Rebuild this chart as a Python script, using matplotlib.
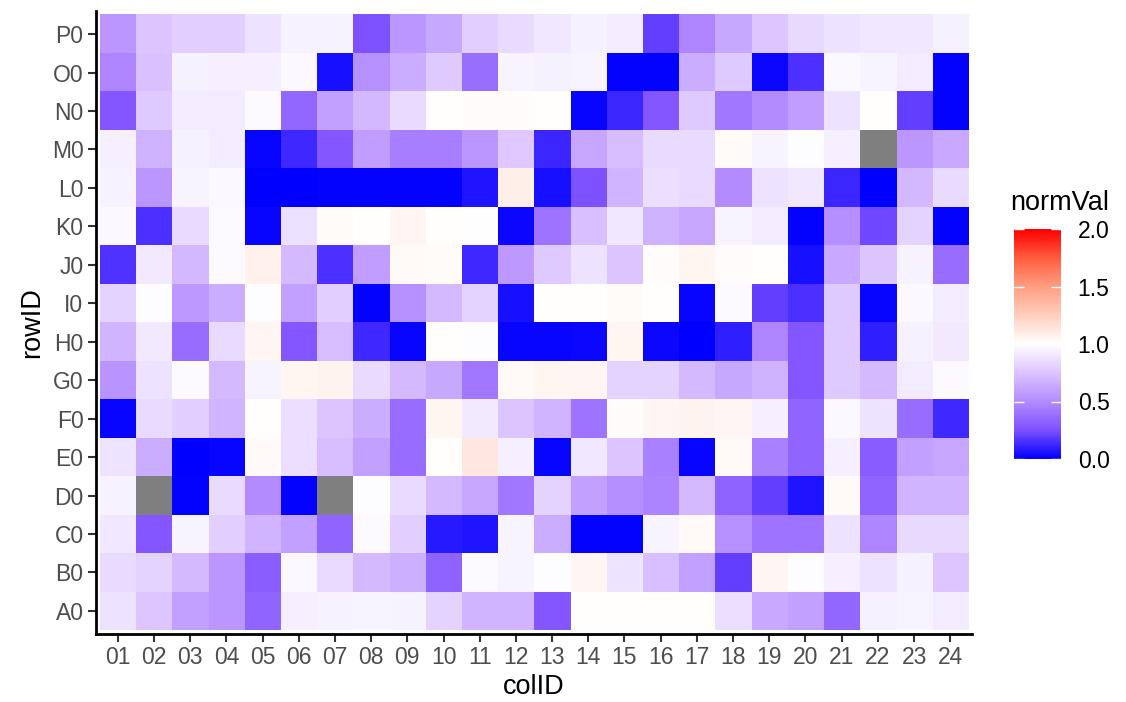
import numpy as np
import matplotlib
matplotlib.use("Agg")
import matplotlib.pyplot as plt
from matplotlib.colors import LinearSegmentedColormap

plt.rcParams['font.family'] = ['Liberation Sans', 'DejaVu Sans']

col_ids = ["%02d" % i for i in range(1, 25)]
row_ids = ["A0", "B0", "C0", "D0", "E0", "F0", "G0", "H0",
           "I0", "J0", "K0", "L0", "M0", "N0", "O0", "P0"]

nan = np.nan
# normVal per row, columns 01..24
row_A0 = [0.88, 0.76, 0.60, 0.55, 0.34, 0.93, 0.95, 0.96, 0.95, 0.82, 0.68, 0.68,
          0.28, 1.00, 1.005, 1.00, 1.00, 0.86, 0.64, 0.60, 0.35, 0.94, 0.96, 0.92]
row_B0 = [0.85, 0.82, 0.71, 0.55, 0.31, 0.97, 0.85, 0.71, 0.66, 0.33, 0.98, 0.96,
          0.99, 1.04, 0.89, 0.73, 0.60, 0.20, 1.04, 0.99, 0.93, 0.88, 0.94, 0.76]
row_C0 = [0.90, 0.28, 0.96, 0.80, 0.68, 0.60, 0.34, 0.98, 0.80, 0.08, 0.07, 0.96,
          0.65, 0.01, 0.01, 0.96, 1.03, 0.53, 0.40, 0.40, 0.88, 0.48, 0.84, 0.84]
row_D0 = [0.95, nan, 0.01, 0.85, 0.50, 0.01, nan, 0.99, 0.85, 0.71, 0.62, 0.42,
          0.82, 0.60, 0.52, 0.47, 0.71, 0.33, 0.20, 0.07, 1.03, 0.34, 0.68, 0.68]
row_E0 = [0.89, 0.65, 0.00, 0.02, 1.03, 0.86, 0.72, 0.60, 0.37, 1.00, 1.12, 0.93,
          0.02, 0.90, 0.75, 0.46, 0.02, 1.03, 0.46, 0.34, 0.93, 0.30, 0.60, 0.62]
row_F0 = [0.02, 0.85, 0.80, 0.68, 1.00, 0.86, 0.75, 0.65, 0.37, 1.05, 0.91, 0.75,
          0.68, 0.40, 1.01, 1.04, 1.06, 1.04, 0.93, 0.34, 0.97, 0.89, 0.37, 0.13]
row_G0 = [0.54, 0.88, 0.98, 0.71, 0.96, 1.05, 1.06, 0.85, 0.71, 0.63, 0.42, 1.03,
          1.05, 1.04, 0.82, 0.82, 0.71, 0.63, 0.67, 0.28, 0.78, 0.71, 0.92, 0.98]
row_H0 = [0.68, 0.91, 0.37, 0.85, 1.04, 0.28, 0.72, 0.13, 0.02, 1.00, 0.99, 0.02,
          0.02, 0.03, 1.05, 0.03, 0.00, 0.10, 0.48, 0.28, 0.78, 0.10, 0.94, 0.91]
row_I0 = [0.82, 0.99, 0.57, 0.65, 0.99, 0.60, 0.80, 0.01, 0.53, 0.71, 0.82, 0.05,
          1.00, 1.00, 1.02, 1.00, 0.02, 0.98, 0.20, 0.15, 0.78, 0.02, 0.97, 0.92]
row_J0 = [0.16, 0.91, 0.70, 0.98, 1.07, 0.71, 0.15, 0.58, 1.03, 1.02, 0.13, 0.57,
          0.78, 0.88, 0.75, 1.01, 1.05, 1.01, 1.00, 0.05, 0.64, 0.75, 0.95, 0.37]
row_K0 = [0.97, 0.15, 0.85, 0.98, 0.02, 0.87, 1.02, 1.005, 1.04, 1.00, 0.995, 0.03,
          0.40, 0.73, 0.90, 0.67, 0.62, 0.96, 0.92, 0.01, 0.52, 0.22, 0.82, 0.01]
row_L0 = [0.95, 0.55, 0.96, 0.97, 0.00, 0.00, 0.01, 0.01, 0.01, 0.01, 0.07, 1.08,
          0.05, 0.25, 0.68, 0.86, 0.85, 0.50, 0.88, 0.90, 0.12, 0.00, 0.70, 0.85]
row_M0 = [0.93, 0.67, 0.94, 0.92, 0.02, 0.13, 0.28, 0.58, 0.45, 0.45, 0.55, 0.77,
          0.12, 0.62, 0.72, 0.85, 0.85, 1.02, 0.96, 0.99, 0.93, nan, 0.55, 0.64]
row_N0 = [0.28, 0.78, 0.92, 0.92, 0.98, 0.35, 0.60, 0.70, 0.85, 1.00, 1.01, 1.01,
          1.00, 0.02, 0.12, 0.28, 0.78, 0.42, 0.50, 0.58, 0.88, 1.00, 0.20, 0.01]
row_O0 = [0.48, 0.74, 0.94, 0.93, 0.93, 0.97, 0.05, 0.53, 0.65, 0.78, 0.38, 0.96,
          0.94, 0.96, 0.01, 0.01, 0.65, 0.78, 0.03, 0.15, 0.97, 0.96, 0.92, 0.01]
row_P0 = [0.55, 0.75, 0.80, 0.80, 0.88, 0.95, 0.95, 0.25, 0.55, 0.63, 0.80, 0.85,
          0.90, 0.94, 0.92, 0.20, 0.48, 0.63, 0.76, 0.84, 0.88, 0.90, 0.90, 0.94]

data = np.array([row_A0, row_B0, row_C0, row_D0, row_E0, row_F0, row_G0, row_H0,
                 row_I0, row_J0, row_K0, row_L0, row_M0, row_N0, row_O0, row_P0])

# blue - white - red, stops taken from a Lab blend like ggplot's gradient2
cmap = LinearSegmentedColormap.from_list("bwr_lab", [
    (0.0, "#0000FF"), (0.125, "#7E51FF"), (0.25, "#B38BFF"), (0.375, "#DCC4FF"),
    (0.5, "#FFFFFF"), (0.625, "#FFCFBF"), (0.75, "#FF9E81"), (0.875, "#FF5D3D"),
    (1.0, "#FF0000")])
cmap.set_bad("#7F7F7F")

fig = plt.figure(figsize=(11.26, 7.02), dpi=100)
ax = fig.add_axes([96 / 1126, 1 - 634 / 702, 876 / 1126, 623 / 702])

im = ax.imshow(np.ma.masked_invalid(data), origin="lower", aspect="auto",
               extent=(0.5, 24.5, 0.5, 16.5), cmap=cmap, vmin=0, vmax=2,
               interpolation="nearest")
ax.set_xlim(0.4, 24.6)
ax.set_ylim(0.4, 16.6)

ax.set_xticks(np.arange(1, 25))
ax.set_xticklabels(col_ids)
ax.set_yticks(np.arange(1, 17))
ax.set_yticklabels(row_ids)
ax.tick_params(colors="#333333", labelcolor="#4D4D4D", labelsize=16.5,
               length=6, width=1.5, pad=3)

for s in ["top", "right"]:
    ax.spines[s].set_visible(False)
for s in ["left", "bottom"]:
    ax.spines[s].set_linewidth(2)
    ax.spines[s].set_color("black")

ax.set_xlabel("colID", fontsize=19.5, labelpad=3)
ax.set_ylabel("rowID", fontsize=19.5, labelpad=5)

cax = fig.add_axes([1014 / 1126, 1 - 459 / 702, 47 / 1126, 230 / 702])
cb = fig.colorbar(im, cax=cax, ticks=[0, 0.5, 1.0, 1.5, 2.0])
cb.outline.set_visible(False)
cb.ax.set_yticklabels(["0.0", "0.5", "1.0", "1.5", "2.0"])
cb.ax.tick_params(direction="in", color="white", length=7, width=1,
                  left=True, right=True, labelsize=16.5, pad=12)
fig.text(1010 / 1126, 1 - 203 / 702, "normVal", fontsize=19.5, va="center")

fig.savefig("out.png", dpi=100)
